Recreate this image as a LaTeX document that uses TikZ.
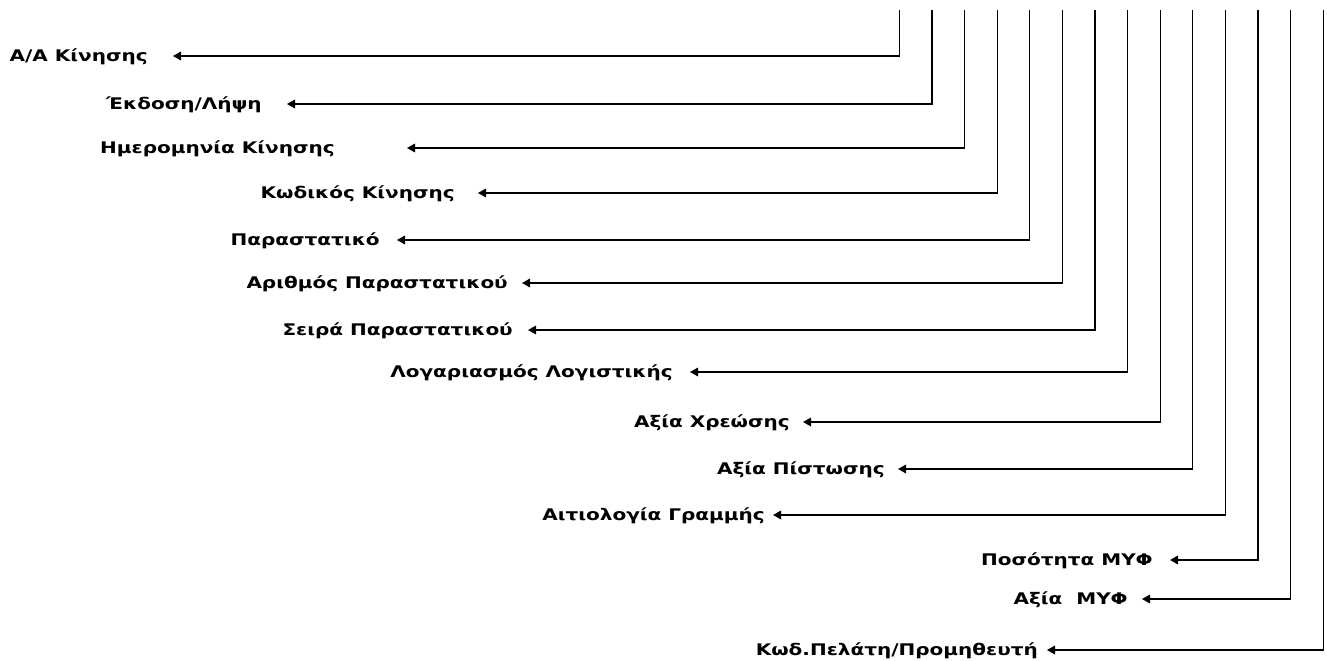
\documentclass[tikz,border=0pt]{standalone}
\usepackage{fontspec}
\setmainfont{DejaVu Sans}[FakeStretch=1.25]
\usetikzlibrary{arrows.meta}

\begin{document}
\begin{tikzpicture}
[x=0.75pt,y=-0.75pt,%
  lineDecorate/.style={-{Triangle[length=6pt,width=6.5pt]},line width=0.9pt},%
  labelDecorate/.style={anchor=base east,inner sep=0pt,font=\fontsize{12}{14}\selectfont\bfseries}]
\useasboundingbox (0,0) rectangle (1327,660);
%% field labels, arrow ends and line tops
\foreach \n/\y/\tx/\ax/\txt in {
  1/56/148/173/{Α/Α Κίνησης},
  2/104/262/287/{Έκδοση/Λήψη},
  3/148/335/407/{Ημερομηνία Κίνησης},
  4/193/455/478/{Κωδικός Κίνησης},
  5/240/380/397/{Παραστατικό},
  6/283/508/522/{Αριθμός Παραστατικού},
  7/330/513/528/{Σειρά Παραστατικού},
  8/372/673/690/{Λογαριασμός Λογιστικής},
  9/422/790/803/{Αξία Χρεώσης},
  10/469/885/898/{Αξία Πίστωσης},
  11/515/765/773/{Αιτιολογία Γραμμής},
  12/560/1153/1170/{Ποσότητα ΜΥΦ},
  13/599/1128/1142/{Αξία~~ΜΥΦ},
  14/650/1038/1047/{Κωδ.Πελάτη/Προμηθευτή}}
{
  \node (l\n) at (\tx,\y+5) [labelDecorate] {\txt};
  \coordinate (a\n) at (\ax,\y);
  \coordinate (v\n) at ({899.3+32.6*(\n-1)},10);
}
%% connectors
\foreach \n in {1,...,14}
{
  \draw[lineDecorate] (v\n) |- (a\n);
}
\end{tikzpicture}
\end{document}
